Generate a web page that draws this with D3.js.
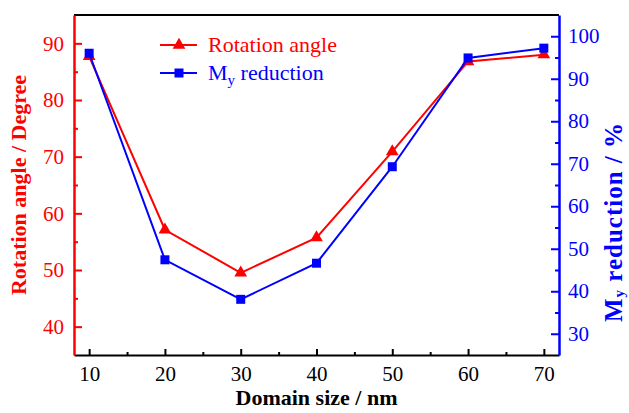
<!DOCTYPE html>
<html>
<head>
<meta charset="utf-8">
<script src="https://cdn.jsdelivr.net/npm/d3@7"></script>
<style>
  body { margin: 0; background: #fff; }
</style>
</head>
<body>
<div id="chart"></div>
<script>
// data
const domainSizes = [10, 20, 30, 40, 50, 60, 70];
const rotationAngle = [87.7, 57.1, 49.5, 55.7, 70.9, 86.8, 88.0];
const myReduction = [96.0, 47.4, 38.1, 46.6, 69.3, 94.9, 97.2];

const xTicks = [10, 20, 30, 40, 50, 60, 70];
const leftTicks = [40, 50, 60, 70, 80, 90];
const rightTicks = [30, 40, 50, 60, 70, 80, 90, 100];

const W = 629, H = 413;
const margin = {top: 15, right: 70, bottom: 58, left: 74};
const width = W - margin.left - margin.right;
const height = H - margin.top - margin.bottom;

const RED = "#ff0000", BLUE = "#0000ff";
const SERIF = "'Liberation Serif'";

const svg = d3.select("#chart").append("svg")
    .attr("width", W)
    .attr("height", H)
    .style("display", "block")
    .style("font-family", SERIF);

const g = svg.append("g")
    .attr("transform", `translate(${margin.left},${margin.top})`);

const x = d3.scaleLinear().domain([8, 72]).range([0, width]);
const yL = d3.scaleLinear().domain([35, 95]).range([height, 0]);
const yR = d3.scaleLinear().domain([25, 105]).range([height, 0]);

// minor ticks first
g.append("g")
    .attr("transform", `translate(0,${height})`)
    .call(d3.axisBottom(x).tickValues([15, 25, 35, 45, 55, 65]).tickSize(-3).tickSizeOuter(0).tickFormat(""))
    .call(a => a.select(".domain").remove())
    .call(a => a.selectAll("line").attr("stroke", "#000").attr("stroke-width", 2));

g.append("g")
    .call(d3.axisLeft(yL).tickValues([45, 55, 65, 75, 85]).tickSize(-4).tickFormat(""))
    .call(a => a.select(".domain").remove())
    .call(a => a.selectAll("line").attr("stroke", RED).attr("stroke-width", 2));

g.append("g")
    .attr("transform", `translate(${width},0)`)
    .call(d3.axisRight(yR).tickValues([35, 45, 55, 65, 75, 85, 95]).tickSize(-4).tickFormat(""))
    .call(a => a.select(".domain").remove())
    .call(a => a.selectAll("line").attr("stroke", BLUE).attr("stroke-width", 2));

// top frame line
g.append("line")
    .attr("x1", 0).attr("x2", width)
    .attr("y1", 0).attr("y2", 0)
    .attr("stroke", "#000")
    .attr("stroke-width", 2);

// bottom axis
g.append("g")
    .attr("transform", `translate(0,${height})`)
    .call(d3.axisBottom(x).tickValues(xTicks).tickSize(-6).tickSizeOuter(0).tickPadding(7))
    .call(a => a.select(".domain").attr("stroke", "#000").attr("stroke-width", 2))
    .call(a => a.selectAll("line").attr("stroke", "#000").attr("stroke-width", 2))
    .call(a => a.selectAll("text").attr("fill", "#000")
        .style("font-family", SERIF).style("font-size", "21px").attr("dy", "0.9em"));

// left axis
g.append("g")
    .call(d3.axisLeft(yL).tickValues(leftTicks).tickSize(-8).tickSizeOuter(0).tickPadding(10))
    .call(a => a.select(".domain").attr("stroke", RED).attr("stroke-width", 2.5))
    .call(a => a.selectAll("line").attr("stroke", RED).attr("stroke-width", 2))
    .call(a => a.selectAll("text").attr("fill", RED)
        .style("font-family", SERIF).style("font-size", "21px"));

// right axis
g.append("g")
    .attr("transform", `translate(${width},0)`)
    .call(d3.axisRight(yR).tickValues(rightTicks).tickSize(-8).tickSizeOuter(0).tickPadding(9))
    .call(a => a.select(".domain").attr("stroke", BLUE).attr("stroke-width", 2.5))
    .call(a => a.selectAll("line").attr("stroke", BLUE).attr("stroke-width", 2))
    .call(a => a.selectAll("text").attr("fill", BLUE)
        .style("font-family", SERIF).style("font-size", "21px"));

// series lines
const lineL = d3.line().x((d, i) => x(domainSizes[i])).y(d => yL(d));
const lineR = d3.line().x((d, i) => x(domainSizes[i])).y(d => yR(d));

g.append("path")
    .datum(rotationAngle)
    .attr("d", lineL)
    .attr("fill", "none")
    .attr("stroke", RED)
    .attr("stroke-width", 2);

const tri = d3.symbol().type(d3.symbolTriangle).size(70);
const sq = d3.symbol().type(d3.symbolSquare).size(81);

g.selectAll(".tri")
    .data(rotationAngle)
    .join("path")
    .attr("class", "tri")
    .attr("d", tri)
    .attr("transform", (d, i) => `translate(${x(domainSizes[i])},${yL(d)})`)
    .attr("fill", RED);

g.append("path")
    .datum(myReduction)
    .attr("d", lineR)
    .attr("fill", "none")
    .attr("stroke", BLUE)
    .attr("stroke-width", 2);

g.selectAll(".sq")
    .data(myReduction)
    .join("path")
    .attr("class", "sq")
    .attr("d", sq)
    .attr("transform", (d, i) => `translate(${x(domainSizes[i])},${yR(d)})`)
    .attr("fill", BLUE);

// legend
const legend = svg.append("g").attr("transform", "translate(160,45)");
const rows = [
    {color: RED, sym: tri, label: "Rotation angle", sub: null},
    {color: BLUE, sym: sq, label: "M", sub: "y", rest: " reduction"}
];
rows.forEach((r, i) => {
    const row = legend.append("g").attr("transform", `translate(0,${i * 28})`);
    row.append("line")
        .attr("x1", 0).attr("x2", 37)
        .attr("stroke", r.color).attr("stroke-width", 2);
    row.append("path")
        .attr("d", r.sym)
        .attr("transform", "translate(19,0)")
        .attr("fill", r.color);
    const t = row.append("text")
        .attr("x", 48).attr("y", 7)
        .attr("fill", r.color)
        .style("font-family", SERIF)
        .style("font-size", "22px");
    t.append("tspan").text(r.label);
    if (r.sub) {
        t.append("tspan").text(r.sub).attr("dy", 5).style("font-size", "15px");
        t.append("tspan").text(r.rest).attr("dy", -5);
    }
});

// axis titles
svg.append("text")
    .attr("x", margin.left + width / 2)
    .attr("y", 405)
    .attr("text-anchor", "middle")
    .style("font-family", SERIF)
    .style("font-size", "22px")
    .style("font-weight", "bold")
    .text("Domain size / nm");

svg.append("text")
    .attr("transform", `translate(26,${margin.top + height / 2}) rotate(-90)`)
    .attr("text-anchor", "middle")
    .attr("fill", RED)
    .style("font-family", SERIF)
    .style("font-size", "22px")
    .style("font-weight", "bold")
    .text("Rotation angle / Degree");

const rt = svg.append("text")
    .attr("transform", `translate(622,${margin.top + height / 2 + 37}) rotate(-90)`)
    .attr("text-anchor", "middle")
    .attr("fill", BLUE)
    .style("font-family", SERIF)
    .style("font-size", "25px")
    .style("font-weight", "bold")
    .style("letter-spacing", "1px");
rt.append("tspan").text("M");
rt.append("tspan").text("y").attr("dy", 2).style("font-size", "15px");
rt.append("tspan").text(" reduction / %").attr("dy", -2);
</script>
</body>
</html>
